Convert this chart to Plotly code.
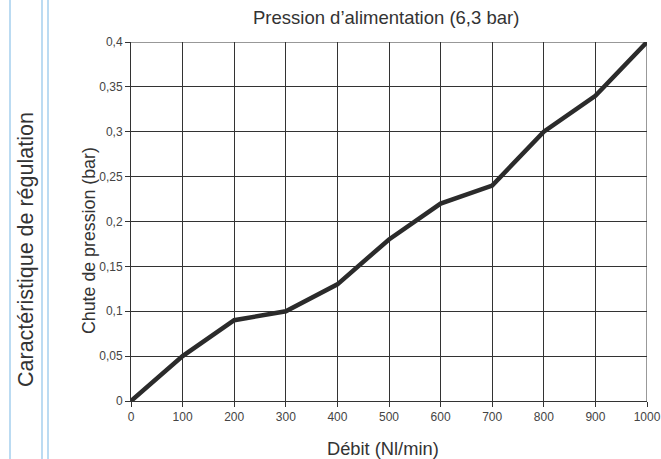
import plotly.graph_objects as go

debit = [0, 100, 200, 300, 400, 500, 600, 700, 800, 900, 1000]
chute = [0, 0.05, 0.09, 0.10, 0.13, 0.18, 0.22, 0.24, 0.30, 0.34, 0.40]
x_ticks = [0, 100, 200, 300, 400, 500, 600, 700, 800, 900, 1000]
y_ticks = [0, 0.05, 0.1, 0.15, 0.2, 0.25, 0.3, 0.35, 0.4]
y_tick_labels = ["0", "0,05", "0,1", "0,15", "0,2", "0,25", "0,3", "0,35", "0,4"]

W, H = 661, 459
ML, MR, MT, MB = 131, 14, 42, 58
FONT = "Liberation Sans, Arial"
TXT = "#333333"

pw = W - ML - MR
ph = H - MT - MB
def px_x(px):
    return (px - ML) / pw
def px_y(py):
    return (H - MB - py) / ph

fig = go.Figure()
fig.add_trace(go.Scatter(x=debit, y=chute, mode="lines",
                         line=dict(color="#2b2b2b", width=4.5), hoverinfo="skip"))

axis_common = dict(showgrid=True, gridcolor="#333333", gridwidth=1,
                   showline=True, linecolor="#333333", linewidth=1,
                   ticks="outside", ticklen=5, tickcolor="#333333",
                   tickfont=dict(family=FONT, size=12, color="#444444"),
                   zeroline=False, mirror=False, fixedrange=True, automargin=False)

fig.update_xaxes(range=[0, 1000], tickvals=x_ticks, ticktext=[str(v) for v in x_ticks],
                 **axis_common)
fig.update_yaxes(range=[0, 0.4], tickvals=y_ticks, ticktext=y_tick_labels,
                 **axis_common)

fig.add_shape(type="line", xref="x", yref="y", x0=1000, x1=1000, y0=0, y1=0.4,
              line=dict(color="#333333", width=1))
fig.add_shape(type="line", xref="x", yref="y", x0=0, x1=1000, y0=0.4, y1=0.4,
              line=dict(color="#333333", width=1))

for xp in [10, 42, 48]:
    fig.add_shape(type="line", xref="paper", yref="paper",
                  x0=px_x(xp), x1=px_x(xp), y0=px_y(H + 2), y1=px_y(-2),
                  line=dict(color="#8ec3ea", width=1.2))

fig.add_annotation(text="Caractéristique de régulation", xref="paper", yref="paper",
                   x=px_x(26), y=px_y(250), textangle=-90, showarrow=False,
                   xanchor="center", yanchor="middle",
                   font=dict(family=FONT, size=21.5, color=TXT))
fig.add_annotation(text="Chute de pression (bar)", xref="paper", yref="paper",
                   x=px_x(89), y=px_y(241), textangle=-90, showarrow=False,
                   xanchor="center", yanchor="middle",
                   font=dict(family=FONT, size=17.8, color=TXT))
fig.add_annotation(text="Débit (Nl/min)", xref="paper", yref="paper",
                   x=px_x(383), y=px_y(448), showarrow=False,
                   xanchor="center", yanchor="middle",
                   font=dict(family=FONT, size=18.3, color=TXT))
fig.add_annotation(text="Pression d’alimentation (6,3 bar)", xref="paper", yref="paper",
                   x=px_x(386), y=px_y(18), showarrow=False,
                   xanchor="center", yanchor="middle",
                   font=dict(family=FONT, size=18.5, color=TXT))

fig.update_layout(
    width=W, height=H,
    margin=dict(l=ML, r=MR, t=MT, b=MB, autoexpand=False),
    paper_bgcolor="white", plot_bgcolor="white",
    showlegend=False,
)

fig.write_html("out.html", config={"displayModeBar": False},
               post_script="document.body.style.margin='0px';document.body.style.overflow='hidden';")
